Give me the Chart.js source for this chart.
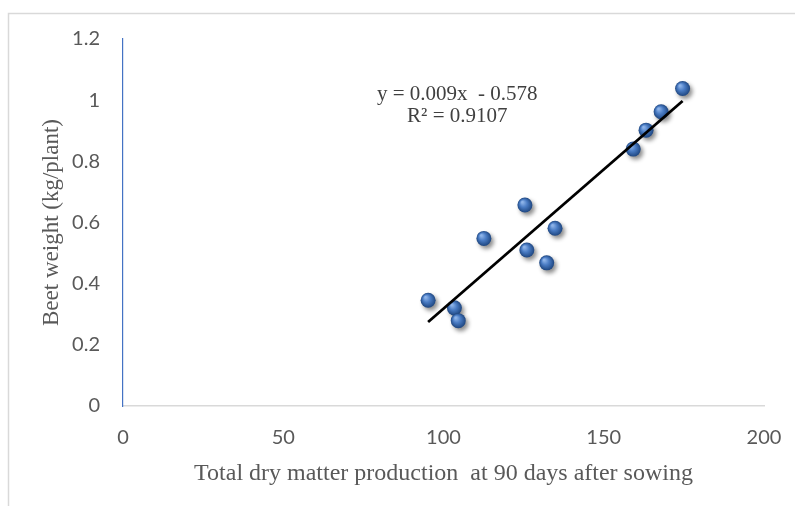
<!DOCTYPE html>
<html>
<head>
<meta charset="utf-8">
<script src="https://cdn.jsdelivr.net/npm/chart.js@4"></script>
<style>
  html, body { margin: 0; padding: 0; background: #fff; }
  #wrap { width: 795px; height: 506px; position: relative; }
</style>
</head>
<body>
<div id="wrap"><canvas id="c" width="795" height="506"></canvas></div>
<script>
// ---- Data ----
const dryMatter   = [95.2, 103.4, 104.6, 112.6, 125.4, 126.0, 132.2, 134.8, 159.2, 163.2, 167.9, 174.6];
const beetWeight  = [0.346, 0.321, 0.279, 0.548, 0.657, 0.510, 0.468, 0.581, 0.840, 0.902, 0.962, 1.038];
const xTickLabels = ['0', '50', '100', '150', '200'];
const yTickLabels = ['0', '0.2', '0.4', '0.6', '0.8', '1', '1.2'];
const equationLines = ['y = 0.009x  - 0.578', 'R\u00B2 = 0.9107'];
const xTitle = 'Total dry matter production  at 90 days after sowing';
const yTitle = 'Beet weight (kg/plant)';

// least-squares trendline from the points above
function fit(xs, ys) {
  const n = xs.length;
  const mx = xs.reduce((a, b) => a + b, 0) / n;
  const my = ys.reduce((a, b) => a + b, 0) / n;
  let sxy = 0, sxx = 0;
  for (let i = 0; i < n; i++) { sxy += (xs[i] - mx) * (ys[i] - my); sxx += (xs[i] - mx) ** 2; }
  const m = sxy / sxx;
  return { m, b: my - m * mx };
}
const f = fit(dryMatter, beetWeight);
const xMin = Math.min(...dryMatter), xMax = Math.max(...dryMatter);
const trend = [{ x: xMin, y: f.m * xMin + f.b }, { x: xMax, y: f.m * xMax + f.b }];
const points = dryMatter.map((x, i) => ({ x, y: beetWeight[i] }));

function sphere(ctx) {
  const el = ctx.element;
  const c = ctx.chart.ctx;
  if (!el || el.x === undefined) return '#3A6BB0';
  const r = 7.5;
  const g = c.createRadialGradient(el.x - r * 0.35, el.y - r * 0.4, r * 0.1, el.x, el.y, r);
  g.addColorStop(0, '#8DB3E8');
  g.addColorStop(0.45, '#4A7CC4');
  g.addColorStop(1, '#1E4680');
  return g;
}

const framePlugin = {
  id: 'frame',
  beforeDraw(chart) {
    const c = chart.ctx;
    c.save();
    c.fillStyle = '#ffffff';
    c.fillRect(0, 0, chart.width, chart.height);
    c.strokeStyle = '#d9d9d9';
    c.lineWidth = 1.5;
    c.beginPath();
    c.moveTo(8.5, chart.height);
    c.lineTo(8.5, 13.5);
    c.lineTo(chart.width, 13.5);
    c.stroke();
    c.restore();
  }
};

const shadowPlugin = {
  id: 'shadow',
  beforeDatasetDraw(chart, args) {
    const c = chart.ctx;
    c.save();
    if (args.index === 1) {
      c.shadowColor = 'rgba(0,0,0,0.45)';
      c.shadowBlur = 4;
      c.shadowOffsetX = 2.5;
      c.shadowOffsetY = 3;
    }
  },
  afterDatasetDraw(chart) { chart.ctx.restore(); }
};

const equationPlugin = {
  id: 'equation',
  afterDatasetsDraw(chart) {
    const c = chart.ctx;
    const xs = chart.scales.x, ys = chart.scales.y;
    const cx = xs.getPixelForValue(104.3);
    c.save();
    c.fillStyle = '#404040';
    c.font = '21px "Liberation Serif", "Times New Roman", serif';
    c.textAlign = 'center';
    c.textBaseline = 'middle';
    c.fillText(equationLines[0], cx, ys.getPixelForValue(1.02));
    c.fillText(equationLines[1], cx, ys.getPixelForValue(0.948));
    c.restore();
  }
};

new Chart(document.getElementById('c'), {
  type: 'scatter',
  data: {
    datasets: [
      {
        type: 'line',
        label: 'Trend',
        data: trend,
        borderColor: '#000000',
        borderWidth: 2.8,
        pointRadius: 0,
        fill: false,
        tension: 0
      },
      {
        label: 'Beet weight',
        data: points,
        pointRadius: 7.5,
        pointHoverRadius: 7.5,
        pointBorderWidth: 0,
        pointBackgroundColor: sphere,
        pointBorderColor: 'rgba(0,0,0,0)'
      }
    ]
  },
  options: {
    responsive: false,
    animation: false,
    events: [],
    layout: { padding: { left: 0, top: 39, right: 31, bottom: 0 } },
    plugins: { legend: { display: false }, tooltip: { enabled: false } },
    scales: {
      x: {
        type: 'linear',
        min: 0, max: 200,
        afterFit(s) { s.height = 100; s.paddingLeft = 0; s.paddingRight = 0; },
        afterBuildTicks(s) { s.ticks = xTickLabels.map(v => ({ value: Number(v) })); },
        ticks: {
          padding: 20,
          color: '#595959',
          font: { family: 'Lato, "Open Sans", sans-serif', size: 20 },
          callback: (v, i) => xTickLabels[i]
        },
        grid: { display: false, drawTicks: false },
        border: { display: true, color: '#d9d9d9', width: 1.5 },
        title: {
          display: true,
          text: xTitle,
          color: '#595959',
          font: { family: '"Liberation Serif", "Times New Roman", serif', size: 24 },
          padding: { top: 0, bottom: 18 }
        }
      },
      y: {
        type: 'linear',
        min: 0, max: 1.2,
        afterFit(s) { s.width = 123; s.paddingTop = 0; s.paddingBottom = 0; },
        afterBuildTicks(s) { s.ticks = yTickLabels.map(v => ({ value: Number(v) })); },
        ticks: {
          padding: 23,
          color: '#595959',
          font: { family: 'Lato, "Open Sans", sans-serif', size: 20 },
          callback: (v, i) => yTickLabels[i]
        },
        grid: { display: false, drawTicks: false },
        border: { display: true, color: '#4472C4', width: 1.2 },
        title: {
          display: true,
          text: yTitle,
          color: '#595959',
          font: { family: '"Liberation Serif", "Times New Roman", serif', size: 23 },
          padding: { top: 38, bottom: 0 }
        }
      }
    }
  },
  plugins: [framePlugin, shadowPlugin, equationPlugin]
});
</script>
</body>
</html>
